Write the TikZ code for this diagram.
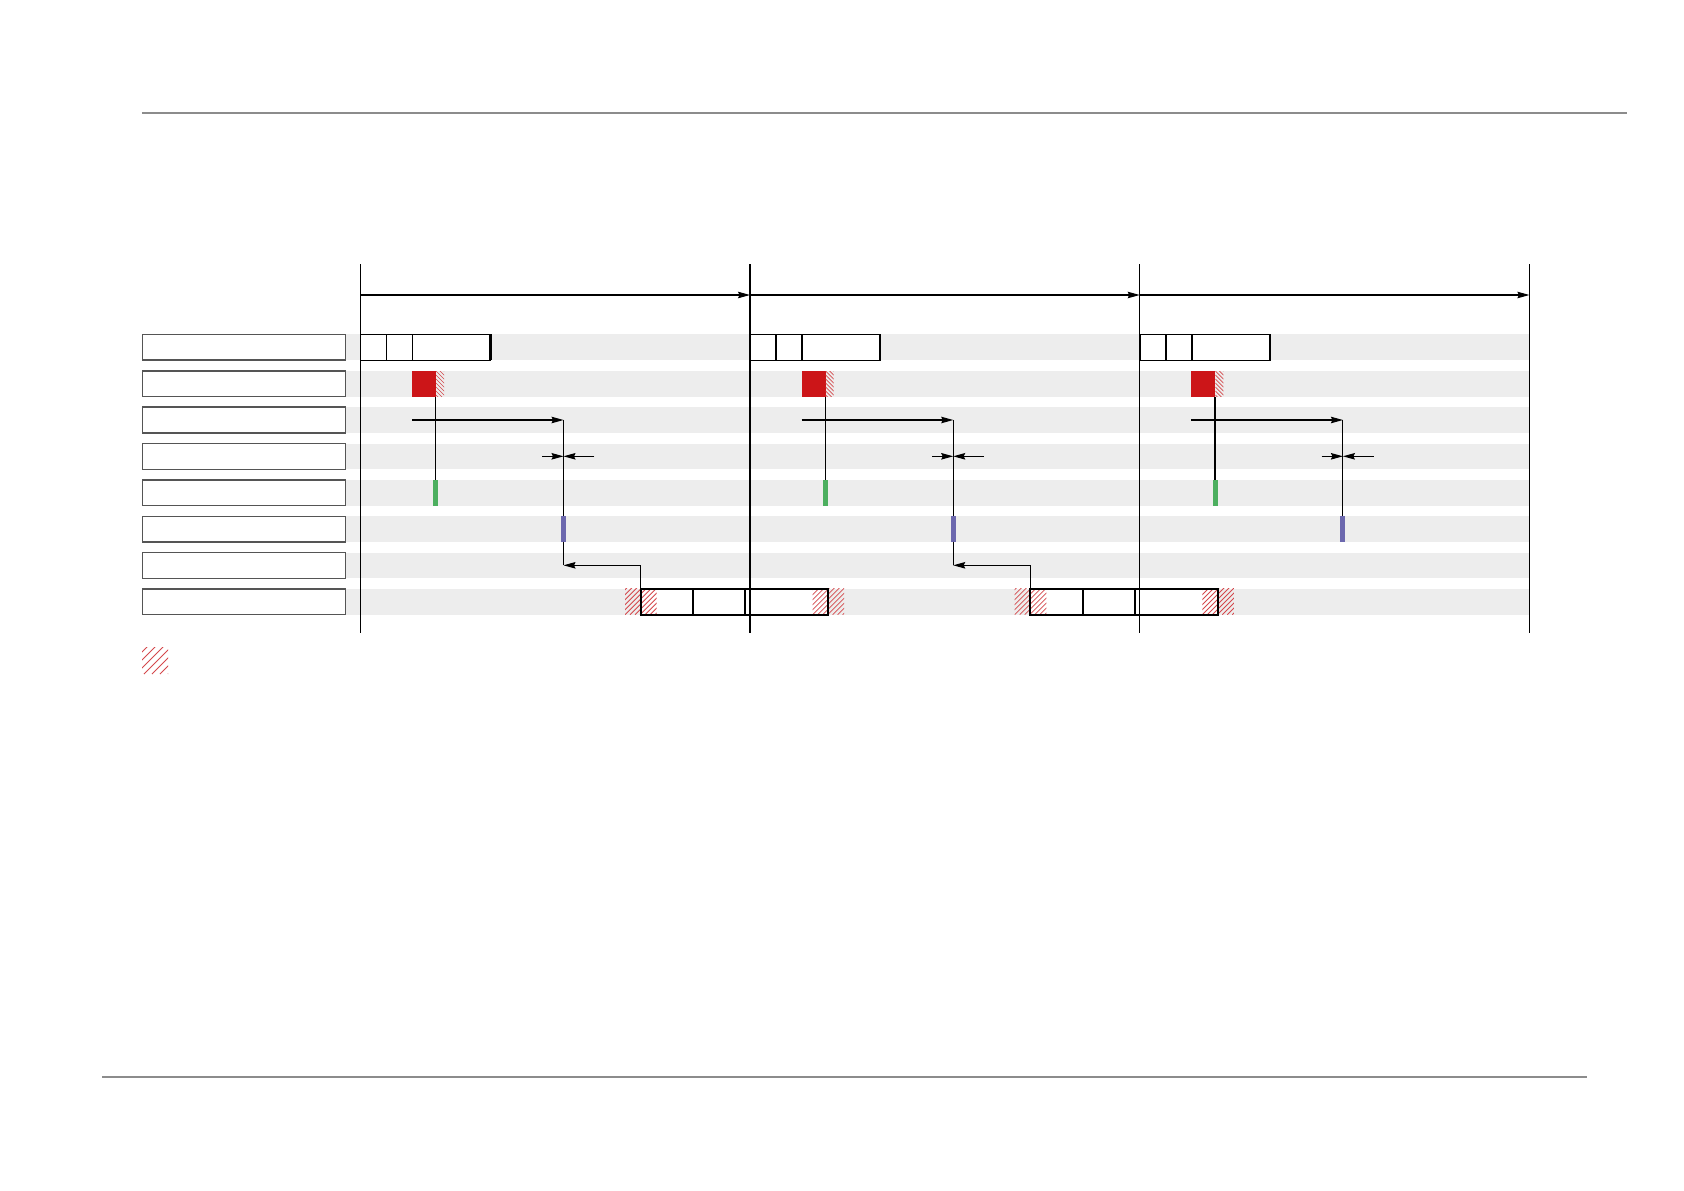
\documentclass[tikz,border=0pt]{standalone}
\usetikzlibrary{arrows.meta}
\definecolor{bandc}{HTML}{EDEDED}
\definecolor{redc}{HTML}{CC1518}
\definecolor{greenc}{HTML}{4CAF5F}
\definecolor{purplec}{HTML}{6C68AE}
\definecolor{rulec}{HTML}{8C8C8C}
\definecolor{boxc}{HTML}{555555}
\definecolor{hatchc}{HTML}{D4484C}
\begin{document}
\begin{tikzpicture}[x=1pt,y=-1pt,
  lblbox/.style={draw=boxc,line width=1.4,fill=white,inner sep=0,outer sep=0,anchor=north west,minimum width=203.4,minimum height=25.8},
  blk/.style={draw=black,line width=1.6,fill=white,inner sep=0,outer sep=0,anchor=north west},
  markbox/.style={inner sep=0,outer sep=0,anchor=north west,draw=none},
  conn/.style={draw=black,line width=1.05},
  arr/.style={-{Stealth[length=12pt,width=6.5pt,inset=1.5pt]}},
  bound/.style={draw=black,line width=1.1},
  hatchline/.style={draw=hatchc,line width=0.8}
]
\useasboundingbox (0,0) rectangle (1684,1191);
\fill[white] (0,0) rectangle (1684,1191);

% rules
\coordinate (rt1) at (141.8,112.8); \coordinate (rt2) at (1627,112.8);
\coordinate (rb1) at (102,1077);    \coordinate (rb2) at (1587,1077);
\draw[rulec,line width=1.6] (rt1) -- (rt2);
\draw[rulec,line width=1.6] (rb1) -- (rb2);

% rows: bands and label boxes
\foreach \r/\y in {1/334.3,2/370.8,3/407.1,4/443.5,5/479.8,6/516.2,7/552.6,8/588.8}{
  \fill[bandc] (346,\y) rectangle (1529.4,\y+25.8);
  \node[lblbox] (lab\r) at (142.3,\y) {};
}

% period boundaries and top arrows
\foreach \i in {0,1,2,3}{
  \coordinate (bt\i) at (360.3+\i*389.7,264);
  \coordinate (bb\i) at (360.3+\i*389.7,632.5);
  \coordinate (ba\i) at (360.3+\i*389.7,295);
}
\foreach \i/\j in {0/1,1/2,2/3}{
  \draw[conn,arr] (ba\i) -- (ba\j);
}

% periods
\foreach \k in {0,1,2}{
  \pgfmathsetmacro\o{360.3+\k*389.7}
  % row 1 block
  \node[blk,minimum width=130,minimum height=26] (top\k) at (\o,334.3) {};
  \draw[line width=1.6] ([xshift=26]top\k.north west) -- ([xshift=26]top\k.south west);
  \draw[line width=1.6] ([xshift=52]top\k.north west) -- ([xshift=52]top\k.south west);
  \draw[line width=2.4] (top\k.north east) -- (top\k.south east);
  % red with hatch
  \node[markbox,fill=redc,minimum width=24,minimum height=25.7] (red\k) at (\o+51.7,371) {};
  \begin{scope}
    \clip (\o+75.7,371) rectangle (\o+83.7,396.7);
    \foreach \j in {-12,-8,...,28}{
      \draw[hatchline,line width=0.7] (\o+75.7,371+\j) -- (\o+105.7,401+\j);
    }
  \end{scope}
  % green and purple
  \node[markbox,fill=greenc,minimum width=5,minimum height=25.7] (grn\k) at (\o+72.8,480) {};
  \node[markbox,fill=purplec,minimum width=5,minimum height=25.7] (pur\k) at (\o+200.7,516) {};
  \draw[conn] (grn\k.north |- red\k.south) -- (grn\k.north);
  % row 3 arrow
  \coordinate (s\k) at (\o+51.7,420);
  \draw[conn,arr] (s\k) -- (s\k -| pur\k.north);
  \draw[conn] (s\k -| pur\k.north) -- (pur\k.north);
  % row 4 double arrows
  \coordinate (dl\k) at (\o+182,456.3);
  \coordinate (dr\k) at (\o+234,456.3);
  \draw[conn,arr] (dl\k) -- (dl\k -| pur\k.north);
  \draw[conn,arr] (dr\k) -- (dr\k -| pur\k.north);
}

% bottom blocks (periods 1 and 2)
\foreach \k in {0,1}{
  \pgfmathsetmacro\o{360.3+\k*389.7}
  \node[blk,line width=2,minimum width=187.6,minimum height=26] (bot\k) at (\o+280.4,588.7) {};
  \begin{scope}
    \clip (\o+264.7,588.7) rectangle (\o+296.4,614.7);
    \foreach \j in {-30,-25,...,35}{
      \draw[hatchline] (\o+264.7+\j,614.7) -- (\o+304.7+\j,574.7);
    }
  \end{scope}
  \begin{scope}
    \clip (\o+452.3,588.7) rectangle (\o+483.8,614.7);
    \foreach \j in {-30,-25,...,35}{
      \draw[hatchline] (\o+452.3+\j,614.7) -- (\o+492.3+\j,574.7);
    }
  \end{scope}
  \draw[line width=2] (bot\k.north west) rectangle (bot\k.south east);
  \draw[line width=2] ([xshift=52.3]bot\k.north west) -- ([xshift=52.3]bot\k.south west);
  \draw[line width=2] ([xshift=104.2]bot\k.north west) -- ([xshift=104.2]bot\k.south west);
  % return connector
  \coordinate (r\k) at (\o+280.4,565.3);
  \draw[conn] (pur\k.south) -- (pur\k.south |- r\k);
  \draw[conn,arr] (bot\k.north west) -- (r\k) -- (r\k -| pur\k.south);
}

% boundary lines on top
\foreach \i in {0,1,2,3}{
  \draw[bound] (bt\i) -- (bb\i);
}

% legend hatch
\begin{scope}
  \clip (142,647) rectangle (168,674);
  \foreach \j in {-30,-22,...,30}{
    \draw[hatchline,line width=1] (142+\j,674) -- (182+\j,634);
  }
\end{scope}
\end{tikzpicture}
\end{document}
